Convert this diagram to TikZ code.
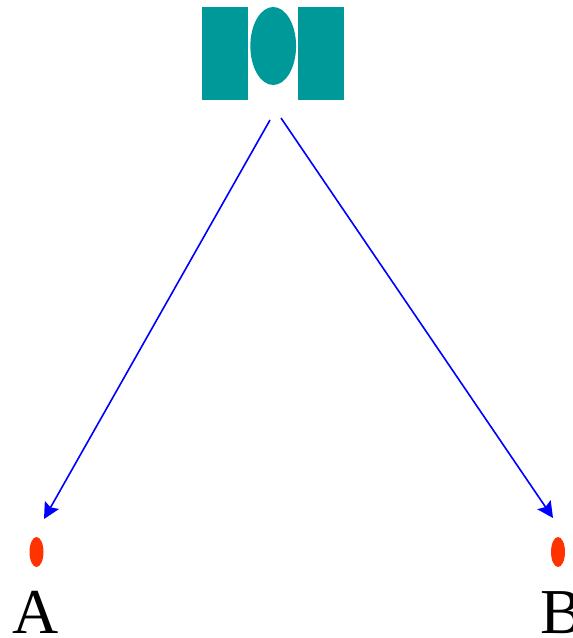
\documentclass[tikz,border=0pt]{standalone}
\usepackage{fontspec}
\setmainfont{Liberation Serif}
\usetikzlibrary{shapes.geometric, arrows.meta, positioning}

\begin{document}
\begin{tikzpicture}[
  x=0.75pt, y=-0.75pt,
  slit/.style={rectangle, fill=teal!100!black, inner sep=0pt, minimum width=34.3pt, minimum height=69.8pt},
  lens/.style={ellipse, fill=teal!100!black, inner sep=0pt, minimum width=34.3pt, minimum height=58.5pt},
  spot/.style={ellipse, fill=spotred, inner sep=0pt, minimum width=10.5pt, minimum height=22.5pt},
  letter/.style={anchor=base, inner sep=0pt, font=\fontsize{48}{48}\selectfont},
  arrow/.style={-{Stealth[length=12pt, width=12pt, inset=2pt]}, draw=blue, line width=1.2pt}
]
  \definecolor{teal}{HTML}{009999}
  \definecolor{spotred}{HTML}{FF3300}
  \useasboundingbox (0,0) rectangle (573,638);

  % Source
  \node[slit] (slitL) at (225,53.5) {};
  \node[lens] (lens) at (273.2,46) {};
  \node[slit] (slitR) at (320.8,53.5) {};

  % Targets
  \node[spot] (spotA) at (36.5,552) {};
  \node[spot] (spotB) at (558,552) {};
  \node[letter] (labelA) at (35.5,633) {A};
  \node[letter] (labelB) at (561.5,633) {B};

  % Beams
  \coordinate (startA) at (270,120);
  \coordinate (startB) at (281,118);
  \coordinate (tipA) at (44,519);
  \coordinate (tipB) at (553,518);
  \draw[arrow] (startA) -- (tipA);
  \draw[arrow] (startB) -- (tipB);
\end{tikzpicture}
\end{document}
